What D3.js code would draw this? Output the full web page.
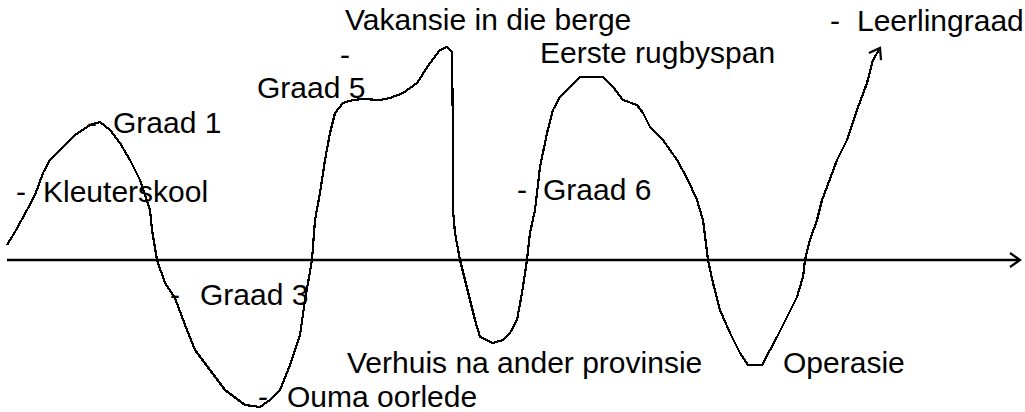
<!DOCTYPE html>
<html>
<head>
<meta charset="utf-8">
<script src="https://cdn.jsdelivr.net/npm/d3@7"></script>
<style>
  body { margin: 0; background: #fff; }
  text { font-family: "Liberation Sans", Arial, sans-serif; font-size: 30px; fill: #000; }
</style>
</head>
<body>
<div id="chart"></div>
<script>
// lewenslyn: tyd (x) en gevoel (y), 0 = neutraal
var tyd = [0, 0.8, 2.0, 2.8, 3.6, 4.3, 5.3, 6.8, 8.3, 9.3, 10.3, 11.3, 12.3, 13.3, 13.8, 14.3, 14.5, 15.0,
  15.8, 16.8, 17.8, 18.8, 20.3, 21.8, 23.8, 25.3, 26.3, 27.3, 28.3, 29.3, 29.8, 30.5, 30.8, 31.3, 31.8,
  32.3, 32.8, 33.6, 34.6, 35.6, 37.3, 38.3, 39.6, 41.0, 42.3, 43.3, 44.0, 44.5, 44.6, 44.6, 44.8, 45.3,
  45.8, 46.3, 46.8, 47.3, 48.6, 49.6, 50.3, 51.0, 51.5, 52.0, 52.3, 52.8, 53.3, 54.0, 54.6, 55.3, 56.3,
  57.3, 59.6, 60.6, 61.6, 63.0, 63.6, 64.3, 65.6, 67.0, 68.1, 69.0, 69.6, 70.1, 70.6, 71.3, 72.3, 73.3,
  74.1, 75.5, 76.3, 77.0, 78.0, 79.0, 79.6, 79.8, 80.3, 81.0, 81.5, 82.0, 83.0, 84.0, 85.0, 86.0, 86.6, 87.3];
var gevoel = [0.75, 1.4, 2.5, 3.25, 4.35, 5.0, 5.5, 6.25, 6.75, 6.9, 6.5, 5.85, 5.0, 4.0, 3.25, 2.5, 1.5, 0,
  -1.15, -1.9, -3.25, -4.5, -5.5, -6.5, -7.25, -7.35, -7.0, -6.5, -5.25, -3.75, -2.0, 0, 2.0, 3.35, 5.0,
  6.35, 7.35, 7.85, 8.0, 8.05, 8.0, 8.1, 8.35, 8.85, 9.85, 10.5, 10.65, 10.4, 6.0, 2.5, 1.35, 0,
  -1.0, -2.0, -3.0, -3.85, -4.15, -4.0, -3.65, -3.0, -1.65, 0, 1.35, 2.5, 4.65, 6.35, 7.5, 8.15, 8.65,
  9.15, 9.15, 8.65, 8.0, 7.75, 7.35, 6.65, 6.0, 5.0, 4.0, 3.0, 2.0, 0, -1.15, -2.5, -3.65, -4.65,
  -5.25, -5.25, -4.5, -3.85, -2.85, -1.85, -0.85, 0, 1.0, 2.0, 3.0, 3.65, 5.0, 6.0, 7.5, 8.85, 10.0, 10.6];

// gebeure
var gebeure = ["Kleuterskool", "Graad 1", "Graad 3", "Ouma oorlede", "Graad 5", "Vakansie in die berge",
  "Verhuis na ander provinsie", "Graad 6", "Eerste rugbyspan", "Operasie", "Leerlingraad"];
var gebeurTyd = [3.6, 10.6, 19.3, 28.0, 25.0, 33.8, 34.0, 53.6, 53.3, 77.6, 85.0];
var gebeurGevoel = [2.9, 6.35, -2.25, -7.35, 8.1, 11.5, -5.65, 3.0, 9.85, -5.65, 11.45];

// strepies voor sommige gebeure
var strepieTyd = [0.9, 8.0, 16.3, 25.1, 33.3, 51.0, 82.3];
var strepieGevoel = [2.9, 6.35, -2.25, -7.35, 9.75, 3.0, 11.45];

var width = 1025;
var height = 412;

var x = d3.scaleLinear().domain([0, 101.3]).range([7, 1020]);
var y = d3.scaleLinear().domain([-7.6, 13]).range([412, 0]);

var svg = d3.select("#chart").append("svg")
  .attr("width", width)
  .attr("height", height);

var defs = svg.append("defs");
defs.append("marker")
  .attr("id", "pyl")
  .attr("viewBox", "-12 -8 14 16")
  .attr("refX", 0).attr("refY", 0)
  .attr("markerWidth", 14).attr("markerHeight", 16)
  .attr("markerUnits", "userSpaceOnUse")
  .attr("orient", "auto")
  .append("path")
  .attr("d", "M-10,-7L0,0L-10,7")
  .attr("fill", "none")
  .attr("stroke", "#000")
  .attr("stroke-width", 2.2);

// tydas
svg.append("line")
  .attr("x1", x(0)).attr("x2", x(101.3))
  .attr("y1", y(0)).attr("y2", y(0))
  .attr("stroke", "#000")
  .attr("stroke-width", 2.5)
  .attr("marker-end", "url(#pyl)");

var punte = tyd.map(function(t, i) { return [t, gevoel[i]]; });

var lyn = d3.line()
  .x(function(d) { return x(d[0]); })
  .y(function(d) { return y(d[1]); })
  .curve(d3.curveLinear);

// handgetekende lyn: geen anti-aliasing
svg.append("path")
  .datum(punte)
  .attr("d", lyn)
  .attr("fill", "none")
  .attr("stroke", "#000")
  .attr("stroke-width", 2.2)
  .attr("stroke-linejoin", "round")
  .attr("shape-rendering", "crispEdges")
  .attr("marker-end", "url(#pyl)");

svg.selectAll(".strepie")
  .data(strepieTyd)
  .enter().append("text")
  .attr("class", "strepie")
  .attr("x", function(d) { return x(d); })
  .attr("y", function(d, i) { return y(strepieGevoel[i]); })
  .text("-");

svg.selectAll(".gebeur")
  .data(gebeure)
  .enter().append("text")
  .attr("class", "gebeur")
  .attr("x", function(d, i) { return x(gebeurTyd[i]); })
  .attr("y", function(d, i) { return y(gebeurGevoel[i]); })
  .text(function(d) { return d; });
</script>
</body>
</html>
